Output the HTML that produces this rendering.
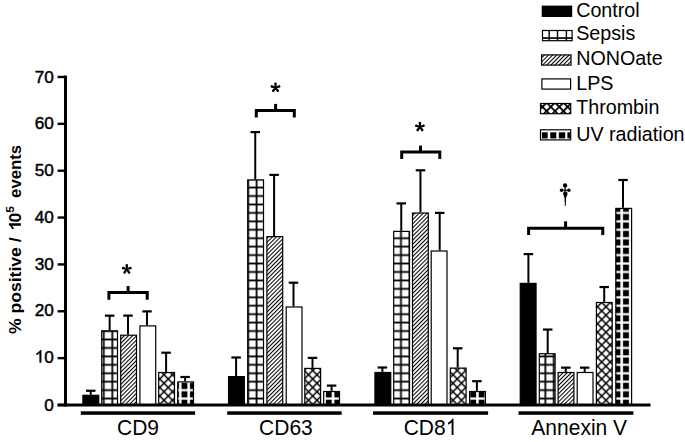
<!DOCTYPE html>
<html><head><meta charset="utf-8"><style>
html,body{margin:0;padding:0;background:#fff;}
svg{display:block;}
text{font-family:"Liberation Sans",sans-serif;fill:#000;}
</style></head><body>
<svg width="685" height="442" viewBox="0 0 685 442">
<defs>
<pattern id="grid" patternUnits="userSpaceOnUse" x="-2.3455" y="-2.32" width="8.491" height="8.44">
<rect width="8.491" height="8.44" fill="#fff"/>
<rect x="3.3455" y="0" width="1.8" height="8.44" fill="#000"/>
<rect x="0" y="3.32" width="8.491" height="1.8" fill="#000"/>
</pattern>
<pattern id="uv" patternUnits="userSpaceOnUse" x="-2.3455" y="-2.32" width="8.491" height="8.44">
<rect width="8.491" height="8.44" fill="#000"/>
<rect x="2.9455" y="0" width="2.6" height="8.44" fill="#fff"/>
<rect x="0" y="3.12" width="8.491" height="2.2" fill="#fff"/>
</pattern>
<pattern id="diag" patternUnits="userSpaceOnUse" width="2.9" height="2.9" patternTransform="rotate(45)">
<rect width="2.9" height="2.9" fill="#fff"/>
<rect x="0" y="0" width="1.05" height="2.9" fill="#000"/>
</pattern>
<pattern id="cross" patternUnits="userSpaceOnUse" x="-0.705" y="1.765" width="6.01" height="6.01" patternTransform="rotate(45)">
<rect width="6.01" height="6.01" fill="#fff"/>
<rect x="2.255" y="0" width="1.5" height="6.01" fill="#000"/>
<rect x="0" y="2.255" width="6.01" height="1.5" fill="#000"/>
</pattern>
<pattern id="crossL" patternUnits="userSpaceOnUse" x="0.797" y="-0.051" width="5.94" height="5.94" patternTransform="rotate(45)">
<rect width="5.94" height="5.94" fill="#fff"/>
<rect x="0" y="0" width="1.8" height="5.94" fill="#000"/>
<rect x="0" y="0" width="5.94" height="1.8" fill="#000"/>
</pattern>
</defs>

<line x1="90.75" y1="394.70" x2="90.75" y2="390.75" stroke="#000" stroke-width="2.0"/>
<line x1="86.00" y1="390.75" x2="95.50" y2="390.75" stroke="#000" stroke-width="2.2"/>
<rect x="82.90" y="395.30" width="15.80" height="10.00" fill="#000" stroke="#000" stroke-width="1.2"/>
<line x1="109.65" y1="330.20" x2="109.65" y2="315.65" stroke="#000" stroke-width="2.0"/>
<line x1="104.90" y1="315.65" x2="114.40" y2="315.65" stroke="#000" stroke-width="2.2"/>
<rect x="101.70" y="330.80" width="15.80" height="74.50" fill="url(#grid)" stroke="#000" stroke-width="1.2"/>
<line x1="128.00" y1="334.60" x2="128.00" y2="315.60" stroke="#000" stroke-width="2.0"/>
<line x1="123.25" y1="315.60" x2="132.75" y2="315.60" stroke="#000" stroke-width="2.2"/>
<rect x="120.70" y="335.20" width="15.80" height="70.10" fill="url(#diag)" stroke="#000" stroke-width="1.2"/>
<line x1="147.00" y1="325.30" x2="147.00" y2="311.40" stroke="#000" stroke-width="2.0"/>
<line x1="142.25" y1="311.40" x2="151.75" y2="311.40" stroke="#000" stroke-width="2.2"/>
<rect x="139.90" y="325.90" width="15.80" height="79.40" fill="#fff" stroke="#000" stroke-width="1.2"/>
<line x1="166.10" y1="371.90" x2="166.10" y2="352.70" stroke="#000" stroke-width="2.0"/>
<line x1="161.35" y1="352.70" x2="170.85" y2="352.70" stroke="#000" stroke-width="2.2"/>
<rect x="158.70" y="372.50" width="15.80" height="32.80" fill="url(#cross)" stroke="#000" stroke-width="1.2"/>
<line x1="185.10" y1="381.30" x2="185.10" y2="377.00" stroke="#000" stroke-width="2.0"/>
<line x1="180.35" y1="377.00" x2="189.85" y2="377.00" stroke="#000" stroke-width="2.2"/>
<rect x="177.70" y="381.90" width="15.80" height="23.40" fill="url(#uv)" stroke="#000" stroke-width="1.2"/>
<line x1="236.10" y1="376.00" x2="236.10" y2="357.50" stroke="#000" stroke-width="2.0"/>
<line x1="231.35" y1="357.50" x2="240.85" y2="357.50" stroke="#000" stroke-width="2.2"/>
<rect x="228.55" y="376.60" width="15.80" height="28.70" fill="#000" stroke="#000" stroke-width="1.2"/>
<line x1="255.25" y1="179.30" x2="255.25" y2="132.10" stroke="#000" stroke-width="2.0"/>
<line x1="250.50" y1="132.10" x2="260.00" y2="132.10" stroke="#000" stroke-width="2.2"/>
<rect x="247.70" y="179.90" width="15.80" height="225.40" fill="url(#grid)" stroke="#000" stroke-width="1.2"/>
<line x1="274.10" y1="236.00" x2="274.10" y2="174.90" stroke="#000" stroke-width="2.0"/>
<line x1="269.35" y1="174.90" x2="278.85" y2="174.90" stroke="#000" stroke-width="2.2"/>
<rect x="266.90" y="236.60" width="15.80" height="168.70" fill="url(#diag)" stroke="#000" stroke-width="1.2"/>
<line x1="293.50" y1="306.40" x2="293.50" y2="282.70" stroke="#000" stroke-width="2.0"/>
<line x1="288.75" y1="282.70" x2="298.25" y2="282.70" stroke="#000" stroke-width="2.2"/>
<rect x="286.20" y="307.00" width="15.80" height="98.30" fill="#fff" stroke="#000" stroke-width="1.2"/>
<line x1="312.50" y1="367.80" x2="312.50" y2="357.90" stroke="#000" stroke-width="2.0"/>
<line x1="307.75" y1="357.90" x2="317.25" y2="357.90" stroke="#000" stroke-width="2.2"/>
<rect x="304.80" y="368.40" width="15.80" height="36.90" fill="url(#cross)" stroke="#000" stroke-width="1.2"/>
<line x1="331.60" y1="390.90" x2="331.60" y2="385.60" stroke="#000" stroke-width="2.0"/>
<line x1="326.85" y1="385.60" x2="336.35" y2="385.60" stroke="#000" stroke-width="2.2"/>
<rect x="323.70" y="391.50" width="15.80" height="13.80" fill="url(#uv)" stroke="#000" stroke-width="1.2"/>
<line x1="382.40" y1="371.90" x2="382.40" y2="367.50" stroke="#000" stroke-width="2.0"/>
<line x1="377.65" y1="367.50" x2="387.15" y2="367.50" stroke="#000" stroke-width="2.2"/>
<rect x="374.95" y="372.50" width="15.80" height="32.80" fill="#000" stroke="#000" stroke-width="1.2"/>
<line x1="401.25" y1="230.80" x2="401.25" y2="203.40" stroke="#000" stroke-width="2.0"/>
<line x1="396.50" y1="203.40" x2="406.00" y2="203.40" stroke="#000" stroke-width="2.2"/>
<rect x="393.70" y="231.40" width="15.80" height="173.90" fill="url(#grid)" stroke="#000" stroke-width="1.2"/>
<line x1="420.45" y1="212.40" x2="420.45" y2="170.30" stroke="#000" stroke-width="2.0"/>
<line x1="415.70" y1="170.30" x2="425.20" y2="170.30" stroke="#000" stroke-width="2.2"/>
<rect x="412.50" y="213.00" width="15.80" height="192.30" fill="url(#diag)" stroke="#000" stroke-width="1.2"/>
<line x1="439.70" y1="250.40" x2="439.70" y2="212.90" stroke="#000" stroke-width="2.0"/>
<line x1="434.95" y1="212.90" x2="444.45" y2="212.90" stroke="#000" stroke-width="2.2"/>
<rect x="431.20" y="251.00" width="15.80" height="154.30" fill="#fff" stroke="#000" stroke-width="1.2"/>
<line x1="457.70" y1="367.50" x2="457.70" y2="348.30" stroke="#000" stroke-width="2.0"/>
<line x1="452.95" y1="348.30" x2="462.45" y2="348.30" stroke="#000" stroke-width="2.2"/>
<rect x="450.30" y="368.10" width="15.80" height="37.20" fill="url(#cross)" stroke="#000" stroke-width="1.2"/>
<line x1="476.90" y1="390.90" x2="476.90" y2="381.20" stroke="#000" stroke-width="2.0"/>
<line x1="472.15" y1="381.20" x2="481.65" y2="381.20" stroke="#000" stroke-width="2.2"/>
<rect x="469.60" y="391.50" width="15.80" height="13.80" fill="url(#uv)" stroke="#000" stroke-width="1.2"/>
<line x1="528.40" y1="282.80" x2="528.40" y2="254.10" stroke="#000" stroke-width="2.0"/>
<line x1="523.65" y1="254.10" x2="533.15" y2="254.10" stroke="#000" stroke-width="2.2"/>
<rect x="520.25" y="283.40" width="15.80" height="121.90" fill="#000" stroke="#000" stroke-width="1.2"/>
<line x1="547.70" y1="353.10" x2="547.70" y2="329.55" stroke="#000" stroke-width="2.0"/>
<line x1="542.95" y1="329.55" x2="552.45" y2="329.55" stroke="#000" stroke-width="2.2"/>
<rect x="539.30" y="353.70" width="15.80" height="51.60" fill="url(#grid)" stroke="#000" stroke-width="1.2"/>
<line x1="565.80" y1="371.90" x2="565.80" y2="367.65" stroke="#000" stroke-width="2.0"/>
<line x1="561.05" y1="367.65" x2="570.55" y2="367.65" stroke="#000" stroke-width="2.2"/>
<rect x="558.10" y="372.50" width="15.80" height="32.80" fill="url(#diag)" stroke="#000" stroke-width="1.2"/>
<line x1="584.70" y1="371.90" x2="584.70" y2="367.65" stroke="#000" stroke-width="2.0"/>
<line x1="579.95" y1="367.65" x2="589.45" y2="367.65" stroke="#000" stroke-width="2.2"/>
<rect x="577.20" y="372.50" width="15.80" height="32.80" fill="#fff" stroke="#000" stroke-width="1.2"/>
<line x1="604.20" y1="301.90" x2="604.20" y2="287.05" stroke="#000" stroke-width="2.0"/>
<line x1="599.45" y1="287.05" x2="608.95" y2="287.05" stroke="#000" stroke-width="2.2"/>
<rect x="596.40" y="302.50" width="15.80" height="102.80" fill="url(#cross)" stroke="#000" stroke-width="1.2"/>
<line x1="623.00" y1="207.80" x2="623.00" y2="180.00" stroke="#000" stroke-width="2.0"/>
<line x1="618.25" y1="180.00" x2="627.75" y2="180.00" stroke="#000" stroke-width="2.2"/>
<rect x="615.80" y="208.40" width="15.80" height="196.90" fill="url(#uv)" stroke="#000" stroke-width="1.2"/>
<line x1="65.5" y1="75.5" x2="65.5" y2="406.4" stroke="#000" stroke-width="3"/>
<line x1="57.6" y1="405.0" x2="650.5" y2="405.0" stroke="#000" stroke-width="2.8"/>
<line x1="57.6" y1="405.00" x2="65" y2="405.00" stroke="#000" stroke-width="2.4"/>
<text x="53.9" y="410.50" font-size="17.2" text-anchor="end" stroke="#000" stroke-width="0.45">0</text>
<line x1="57.6" y1="358.14" x2="65" y2="358.14" stroke="#000" stroke-width="2.4"/>
<path d="M763 0H583V1147Q518 1085 412.5 1023T223 930V1104Q374 1175 487 1276T647 1472H763Z" transform="translate(34.77,362.60) scale(0.00840,-0.00840)" fill="#000" stroke="#000" stroke-width="0.45" vector-effect="non-scaling-stroke"/>
<text x="53.9" y="362.60" font-size="17.2" text-anchor="end" stroke="#000" stroke-width="0.45">0</text>
<line x1="57.6" y1="311.28" x2="65" y2="311.28" stroke="#000" stroke-width="2.4"/>
<text x="53.9" y="316.20" font-size="17.2" text-anchor="end" stroke="#000" stroke-width="0.45">20</text>
<line x1="57.6" y1="264.42" x2="65" y2="264.42" stroke="#000" stroke-width="2.4"/>
<text x="53.9" y="269.50" font-size="17.2" text-anchor="end" stroke="#000" stroke-width="0.45">30</text>
<line x1="57.6" y1="217.56" x2="65" y2="217.56" stroke="#000" stroke-width="2.4"/>
<text x="53.9" y="222.80" font-size="17.2" text-anchor="end" stroke="#000" stroke-width="0.45">40</text>
<line x1="57.6" y1="170.70" x2="65" y2="170.70" stroke="#000" stroke-width="2.4"/>
<text x="53.9" y="175.50" font-size="17.2" text-anchor="end" stroke="#000" stroke-width="0.45">50</text>
<line x1="57.6" y1="123.84" x2="65" y2="123.84" stroke="#000" stroke-width="2.4"/>
<text x="53.9" y="128.70" font-size="17.2" text-anchor="end" stroke="#000" stroke-width="0.45">60</text>
<line x1="57.6" y1="76.98" x2="65" y2="76.98" stroke="#000" stroke-width="2.4"/>
<text x="53.9" y="82.70" font-size="17.2" text-anchor="end" stroke="#000" stroke-width="0.45">70</text>
<rect x="80.8" y="411.3" width="114.3" height="3.5" fill="#000"/>
<rect x="227.2" y="411.3" width="114.5" height="3.5" fill="#000"/>
<rect x="373" y="411.3" width="115.1" height="3.5" fill="#000"/>
<rect x="518.5" y="411.3" width="114.9" height="3.5" fill="#000"/>
<text transform="translate(138.0,435.1) scale(1,1.09)" font-size="21" text-anchor="middle">CD9</text>
<text transform="translate(285.9,435.1) scale(1,1.09)" font-size="21" text-anchor="middle">CD63</text>
<text transform="translate(579.2,435.1) scale(1,1.09)" font-size="21" text-anchor="middle">Annexin V</text>
<text transform="translate(403.66,435.1) scale(1,1.09)" font-size="21">CD8</text>
<path d="M763 0H583V1147Q518 1085 412.5 1023T223 930V1104Q374 1175 487 1276T647 1472H763Z" transform="translate(445.66,435.10) scale(0.01025,-0.01118)" fill="#000" />
<path d="M108.9,299.7 V292.6 H147.2 V299.7" fill="none" stroke="#000" stroke-width="3"/>
<line x1="128.1" y1="292.6" x2="128.1" y2="286.1" stroke="#000" stroke-width="3"/>
<path d="M256.3,117.5 V110.5 H294.3 V117.5" fill="none" stroke="#000" stroke-width="3"/>
<line x1="275.6" y1="110.5" x2="275.6" y2="103.9" stroke="#000" stroke-width="3"/>
<path d="M401.7,158.9 V151.9 H439.8 V158.9" fill="none" stroke="#000" stroke-width="3"/>
<line x1="420.5" y1="151.9" x2="420.5" y2="145.6" stroke="#000" stroke-width="3"/>
<path d="M528.6,234.9 V228.3 H602.8 V234.9" fill="none" stroke="#000" stroke-width="3"/>
<line x1="565.6" y1="228.3" x2="565.6" y2="221.3" stroke="#000" stroke-width="3"/>
<path d="M127.55,269.30 L128.10,265.40 A1.3,1.3 0 0 0 125.50,265.40 L126.05,269.30 Z M127.03,270.01 L130.91,269.33 A1.3,1.3 0 0 0 130.11,266.86 L126.57,268.59 Z M126.19,269.74 L128.04,273.22 A1.3,1.3 0 0 0 130.14,271.69 L127.41,268.86 Z M126.19,268.86 L123.46,271.69 A1.3,1.3 0 0 0 125.56,273.22 L127.41,269.74 Z M127.03,268.59 L123.49,266.86 A1.3,1.3 0 0 0 122.69,269.33 L126.57,270.01 Z " fill="#000"/>
<circle cx="126.8" cy="269.3" r="1.1" fill="#000"/>
<path d="M276.25,87.60 L276.80,83.70 A1.3,1.3 0 0 0 274.20,83.70 L274.75,87.60 Z M275.73,88.31 L279.61,87.63 A1.3,1.3 0 0 0 278.81,85.16 L275.27,86.89 Z M274.89,88.04 L276.74,91.52 A1.3,1.3 0 0 0 278.84,89.99 L276.11,87.16 Z M274.89,87.16 L272.16,89.99 A1.3,1.3 0 0 0 274.26,91.52 L276.11,88.04 Z M275.73,86.89 L272.19,85.16 A1.3,1.3 0 0 0 271.39,87.63 L275.27,88.31 Z " fill="#000"/>
<circle cx="275.5" cy="87.6" r="1.1" fill="#000"/>
<path d="M420.65,126.90 L421.20,123.00 A1.3,1.3 0 0 0 418.60,123.00 L419.15,126.90 Z M420.13,127.61 L424.01,126.93 A1.3,1.3 0 0 0 423.21,124.46 L419.67,126.19 Z M419.29,127.34 L421.14,130.82 A1.3,1.3 0 0 0 423.24,129.29 L420.51,126.46 Z M419.29,126.46 L416.56,129.29 A1.3,1.3 0 0 0 418.66,130.82 L420.51,127.34 Z M420.13,126.19 L416.59,124.46 A1.3,1.3 0 0 0 415.79,126.93 L419.67,127.61 Z " fill="#000"/>
<circle cx="419.9" cy="126.9" r="1.1" fill="#000"/>
<g fill="#000"><circle cx="565.1" cy="185.4" r="2.2"/><circle cx="561.6" cy="190.2" r="1.75"/><circle cx="568.9" cy="190.2" r="1.7"/><path d="M564.6,186 L565.6,186 L565.8,190.2 L565.6,192 L564.6,192 L564.4,190.2 Z"/><path d="M562,189.7 L568.5,189.7 L568.5,190.7 L562,190.7 Z"/><path d="M563.1,193.6 C563.1,192.2 564.1,191.6 565.3,191.6 C566.5,191.6 567.5,192.2 567.5,193.6 C567.5,195.2 566.4,196.6 566.1,198 L565.7,206 L564.9,206 L564.5,198 C564.2,196.6 563.1,195.2 563.1,193.6 Z"/></g>
<g transform="translate(20.9,239.8) rotate(-90) scale(1,0.95)">
<text x="-94.31" y="0" font-size="17.6" font-weight="bold">% positive /</text>
<path d="M1050 0H769V1059Q615 915 406 846V1101Q516 1137 645 1237T822 1470H1050Z" transform="translate(7.41,0.00) scale(0.00859,-0.00859)" fill="#000" />
<text x="17.19" y="0" font-size="17.6" font-weight="bold">0</text>
<text x="26.98" y="-7" font-size="12" font-weight="bold">5</text>
<text x="41.9" y="0" font-size="17.6" font-weight="bold" textLength="52.98" lengthAdjust="spacingAndGlyphs">events</text>
</g>
<rect x="541.7" y="5.6" width="30.5" height="11.4" fill="#000"/>
<rect x="542.50" y="30.50" width="29.60" height="10.20" fill="#fff" stroke="#000" stroke-width="1.2"/>
<rect x="548.50" y="30" width="1.4" height="11" fill="#000"/>
<rect x="556.80" y="30" width="1.4" height="11" fill="#000"/>
<rect x="565.70" y="30" width="1.4" height="11" fill="#000"/>
<rect x="542" y="37.2" width="30.6" height="1.7" fill="#000"/>
<rect x="541.60" y="54.90" width="29.40" height="10.20" fill="url(#diag)" stroke="#000" stroke-width="1.2"/>
<rect x="541.90" y="78.90" width="28.70" height="10.20" fill="#fff" stroke="#000" stroke-width="1.2"/>
<rect x="540.50" y="103.50" width="30.20" height="10.20" fill="url(#crossL)" stroke="#000" stroke-width="1.2"/>
<rect x="540.50" y="129.80" width="30.20" height="10.10" fill="#fff" stroke="#000" stroke-width="1.2"/>
<rect x="541.9" y="132.3" width="5.80" height="6.1" fill="#000"/>
<rect x="550.2" y="132.3" width="6.10" height="6.1" fill="#000"/>
<rect x="558.8" y="132.3" width="6.40" height="6.1" fill="#000"/>
<rect x="567.4" y="132.3" width="2.80" height="6.1" fill="#000"/>
<text x="576.2" y="17.3" font-size="19.7">Control</text>
<text x="576.2" y="40.4" font-size="19.7">Sepsis</text>
<text x="576.2" y="64.6" font-size="19.7">NONOate</text>
<text x="576.2" y="89.6" font-size="19.7">LPS</text>
<text x="576.2" y="113.5" font-size="19.7">Thrombin</text>
<text x="576.2" y="140.5" font-size="19.7">UV radiation</text>
</svg></body></html>
